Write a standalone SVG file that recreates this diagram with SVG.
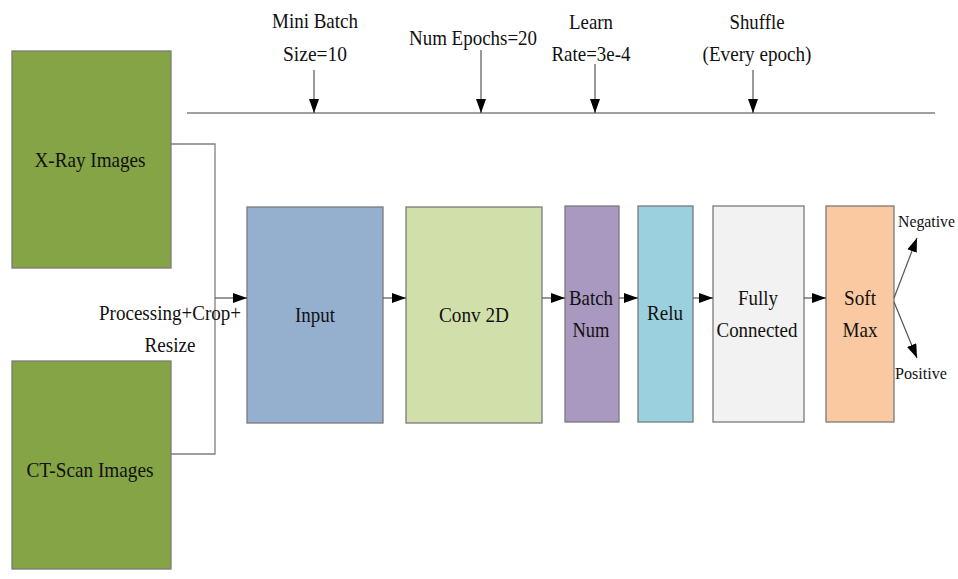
<svg xmlns="http://www.w3.org/2000/svg" width="958" height="579" viewBox="0 0 958 579">
<style>
.t{font-family:"Liberation Serif","Times New Roman",serif;font-size:22px;fill:#111;text-anchor:middle}
.s{font-family:"Liberation Serif","Times New Roman",serif;font-size:17px;fill:#111}
.box{stroke:#7a7a7a;stroke-width:1.3}
.ln{stroke:#808080;stroke-width:1.3;fill:none}
.ar{stroke:#555;stroke-width:1.2;fill:none;marker-end:url(#ah)}
</style>
<defs>
<marker id="ah" markerUnits="userSpaceOnUse" markerWidth="14" markerHeight="10" refX="14" refY="5" orient="auto">
<path d="M0,0 L14,5 L0,10 z" fill="#000"/>
</marker>
</defs>
<rect width="958" height="579" fill="#fff"/>
<g id="params">
<text class="t" x="315" y="28" textLength="86" lengthAdjust="spacingAndGlyphs">Mini Batch</text>
<text class="t" x="315" y="61" textLength="64" lengthAdjust="spacingAndGlyphs">Size=10</text>
<text class="t" x="473" y="45" textLength="128" lengthAdjust="spacingAndGlyphs">Num Epochs=20</text>
<text class="t" x="591" y="29" textLength="44" lengthAdjust="spacingAndGlyphs">Learn</text>
<text class="t" x="591" y="61" textLength="79" lengthAdjust="spacingAndGlyphs">Rate=3e-4</text>
<text class="t" x="757" y="29" textLength="55" lengthAdjust="spacingAndGlyphs">Shuffle</text>
<text class="t" x="757" y="61" textLength="109" lengthAdjust="spacingAndGlyphs">(Every epoch)</text>
</g>
<g id="xray">
<rect class="box" x="12" y="51" width="159" height="217" fill="#84a446"/>
<text class="t" x="90" y="167" textLength="111" lengthAdjust="spacingAndGlyphs">X-Ray Images</text>
</g>
<g id="ctscan">
<rect class="box" x="12" y="361" width="159" height="208" fill="#84a446"/>
<text class="t" x="90" y="477" textLength="127" lengthAdjust="spacingAndGlyphs">CT-Scan Images</text>
</g>
<g id="input">
<rect class="box" x="247" y="207" width="136" height="216" fill="#95b0cf"/>
<text class="t" x="315" y="322" textLength="40" lengthAdjust="spacingAndGlyphs">Input</text>
</g>
<g id="conv">
<rect class="box" x="406" y="207" width="136" height="216" fill="#d1e0ab"/>
<text class="t" x="474" y="322" textLength="70" lengthAdjust="spacingAndGlyphs">Conv 2D</text>
</g>
<g id="batch">
<rect class="box" x="565" y="206" width="54" height="216" fill="#a998c0"/>
<text class="t" x="591" y="305" textLength="44" lengthAdjust="spacingAndGlyphs">Batch</text>
<text class="t" x="591" y="337" textLength="37" lengthAdjust="spacingAndGlyphs">Num</text>
</g>
<g id="relu">
<rect class="box" x="638" y="206" width="55" height="216" fill="#9bd1de"/>
<text class="t" x="665" y="320" textLength="36" lengthAdjust="spacingAndGlyphs">Relu</text>
</g>
<g id="fc">
<rect class="box" x="713" y="206" width="91" height="216" fill="#f2f2f2"/>
<text class="t" x="758" y="305" textLength="40" lengthAdjust="spacingAndGlyphs">Fully</text>
<text class="t" x="757" y="337" textLength="81" lengthAdjust="spacingAndGlyphs">Connected</text>
</g>
<g id="softmax">
<rect class="box" x="826" y="206" width="68" height="216" fill="#fac9a1"/>
<text class="t" x="860" y="305" textLength="32" lengthAdjust="spacingAndGlyphs">Soft</text>
<text class="t" x="860" y="337" textLength="35" lengthAdjust="spacingAndGlyphs">Max</text>
</g>
<g id="outputs">
<text class="s" x="898" y="227" textLength="57" lengthAdjust="spacingAndGlyphs">Negative</text>
<text class="s" x="895" y="379" textLength="52" lengthAdjust="spacingAndGlyphs">Positive</text>
</g>
<g id="connectors">
<line class="ln" x1="187" y1="113" x2="935" y2="113"/>
<line class="ar" x1="314" y1="70" x2="314" y2="113"/>
<line class="ar" x1="481" y1="50" x2="481" y2="113"/>
<line class="ar" x1="595" y1="64" x2="595" y2="113"/>
<line class="ar" x1="753" y1="70" x2="753" y2="113"/>
<polyline class="ln" points="171,144 215,144 215,454 171,454"/>
<line class="ar" x1="215" y1="298" x2="247" y2="298"/>
<text class="t" x="170" y="320" textLength="142" lengthAdjust="spacingAndGlyphs">Processing+Crop+</text>
<text class="t" x="170" y="352" textLength="51" lengthAdjust="spacingAndGlyphs">Resize</text>
<line class="ar" x1="383" y1="298" x2="406" y2="298"/>
<line class="ar" x1="542" y1="298" x2="565" y2="298"/>
<line class="ar" x1="619" y1="298" x2="638" y2="298"/>
<line class="ar" x1="693" y1="298" x2="713" y2="298"/>
<line class="ar" x1="804" y1="298" x2="826" y2="298"/>
<line class="ar" x1="894" y1="298" x2="917" y2="238"/>
<line class="ar" x1="894" y1="302" x2="917" y2="358"/>
</g>
</svg>
